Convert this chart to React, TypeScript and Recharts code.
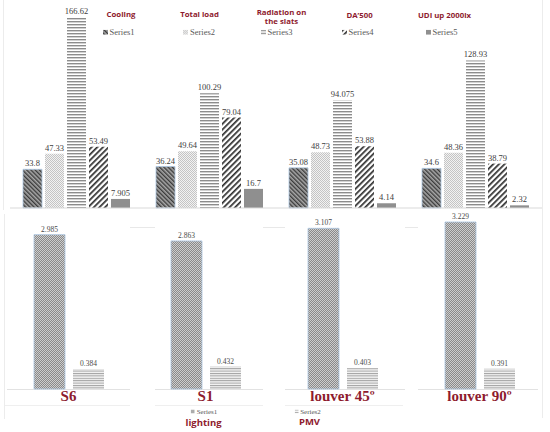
import React from 'react';
import { BarChart, Bar, XAxis, YAxis, LabelList, ReferenceLine } from 'recharts';

// ---------- data ----------
const categories = ['S6', 'S1', 'louver 45º', 'louver 90º'];

const topSeriesNames = ['Series1', 'Series2', 'Series3', 'Series4', 'Series5'];
const topTitles = ['Cooling', 'Total load', 'Radiation on the slats', 'DA’500', 'UDI up 2000lx'];
const series1 = [33.8, 36.24, 35.08, 34.6];
const series2 = [47.33, 49.64, 48.73, 48.36];
const series3 = [166.62, 100.29, 94.075, 128.93];
const series4 = [53.49, 79.04, 53.88, 38.79];
const series5 = [7.905, 16.7, 4.14, 2.32];

const bottomSeriesNames = ['Series1', 'Series2'];
const bottomTitles = ['lighting', 'PMV'];
const lighting = [2.985, 2.863, 3.107, 3.229];
const pmv = [0.384, 0.432, 0.403, 0.391];

const topData = categories.map((name, i) => ({
  name,
  s1: series1[i],
  s2: series2[i],
  s3: series3[i],
  s4: series4[i],
  s5: series5[i],
}));

const bottomData = categories.map((name, i) => ({
  name,
  lighting: lighting[i],
  pmv: pmv[i],
}));

// ---------- styles ----------
const RED = '#8e1b2e';
const SERIF = '"Liberation Serif", "Times New Roman", serif';
const SANS = '"Open Sans", "Liberation Sans", Arial, sans-serif';
const BLUE_EDGE = '#a9c4e0';

const Patterns = () => (
  <svg width={0} height={0} style={{ position: 'absolute', left: 0, top: 0 }}>
    <defs>
      <pattern id="pt1" width="3" height="3" patternUnits="userSpaceOnUse" patternTransform="rotate(-45)">
        <rect width="3" height="3" fill="#a8a8a8" />
        <rect width="1.4" height="3" fill="#3c3c3c" />
      </pattern>
      <pattern id="pt2" width="2" height="2" patternUnits="userSpaceOnUse">
        <rect width="2" height="2" fill="#f2f2f2" />
        <rect width="1" height="1" fill="#c4c4c4" />
        <rect x="1" y="1" width="1" height="1" fill="#c4c4c4" />
      </pattern>
      <pattern id="pt3" width="3" height="3" patternUnits="userSpaceOnUse">
        <rect width="3" height="3" fill="#ffffff" />
        <rect width="3" height="1.4" fill="#8c8c8c" />
      </pattern>
      <pattern id="pt4" width="4" height="4" patternUnits="userSpaceOnUse" patternTransform="rotate(45)">
        <rect width="4" height="4" fill="#ffffff" />
        <rect width="1.7" height="4" fill="#2e2e2e" />
      </pattern>
      <pattern id="pb1" width="2" height="2" patternUnits="userSpaceOnUse">
        <rect width="2" height="2" fill="#cdcdcd" />
        <rect width="1" height="1" fill="#8a8a8a" />
        <rect x="1" y="1" width="1" height="1" fill="#8a8a8a" />
      </pattern>
      <pattern id="pb2" width="2.4" height="2.4" patternUnits="userSpaceOnUse">
        <rect width="2.4" height="2.4" fill="#f4f4f4" />
        <rect width="2.4" height="1" fill="#a0a0a0" />
      </pattern>
    </defs>
  </svg>
);

const topFills = ['url(#pt1)', 'url(#pt2)', 'url(#pt3)', 'url(#pt4)', '#8f8f8f'];
const topStrokes = [BLUE_EDGE, 'none', 'none', 'none', 'none'];
const topKeys = ['s1', 's2', 's3', 's4', 's5'];
const topTitlePos = [
  { x: 121, y: 14 },
  { x: 199.5, y: 14 },
  { x: 281.5, y: 16 },
  { x: 359.5, y: 14.5 },
  { x: 444.5, y: 14.5 },
];
const topLegendPos = [
  { x: 118.5, y: 32 },
  { x: 199, y: 32 },
  { x: 276.5, y: 32 },
  { x: 357.5, y: 32 },
  { x: 441.5, y: 32 },
];

const bottomFills = ['url(#pb1)', 'url(#pb2)'];
const bottomLegendPos = [
  { x: 204, y: 411.5 },
  { x: 307.5, y: 411.5 },
];
const bottomTitlePos = [
  { x: 203.5, y: 422.5 },
  { x: 309.5, y: 422 },
];

const Center: React.FC<{ x: number; y: number; style?: React.CSSProperties; children?: React.ReactNode }> = ({
  x,
  y,
  style,
  children,
}) => (
  <div
    style={{
      position: 'absolute',
      left: x,
      top: y,
      transform: 'translate(-50%, -50%)',
      whiteSpace: 'nowrap',
      lineHeight: 1,
      ...style,
    }}
  >
    {children}
  </div>
);

const LegendItem: React.FC<{ fill: string; label: string; size: number; font: number }> = ({ fill, label, size, font }) => (
  <div
    style={{ display: 'flex', alignItems: 'center', fontFamily: SERIF, fontSize: font, lineHeight: 1, color: '#595959' }}
  >
    <svg width={size} height={size} style={{ marginRight: 2, display: 'block' }}>
      <rect width={size} height={size} fill={fill} />
    </svg>
    <span>{label}</span>
  </div>
);

const Line: React.FC<{ x: number; y: number; w: number; h: number; c?: string }> = ({ x, y, w, h, c = '#e6e6e6' }) => (
  <div style={{ position: 'absolute', left: x, top: y, width: w, height: h, background: c }} />
);

const BottomTick = (props: any) => {
  const { x, y, payload } = props;
  return (
    <text x={x} y={y + 12} textAnchor="middle" fill={RED} fontFamily={SERIF} fontWeight="bold" fontSize={15}>
      {payload.value}
    </text>
  );
};

const makeLabel = (size: number, color: string) => (props: any) => {
  const { x, y, width, value } = props;
  return (
    <text
      x={Number(x) + Number(width) / 2}
      y={Number(y) - 3}
      textAnchor="middle"
      fill={color}
      fontSize={size}
      fontFamily={SERIF}
    >
      {value}
    </text>
  );
};

const topLabel = makeLabel(8.5, '#404040');
const bottomLabel = makeLabel(7.5, '#4a4a4a');

export default function App() {
  return (
    <div style={{ position: 'absolute', left: 0, top: 0, width: 550, height: 432, background: '#fff', overflow: 'hidden' }}>
      <Patterns />

      {/* faint panel frame lines */}
      <Line x={3} y={0} w={1} h={210} c="#ececec" />
      <Line x={542} y={0} w={1} h={212} c="#ececec" />
      <Line x={4} y={214} w={1} h={205} c="#ececec" />
      <Line x={542} y={208} w={1} h={210} c="#ececec" />
      <Line x={130} y={227} w={25} h={1} c="#e8e8e8" />
      <Line x={263} y={227} w={22} h={1} c="#e8e8e8" />
      <Line x={405} y={227} w={13} h={1} c="#e8e8e8" />
      <Line x={5} y={405} w={125} h={1} c="#efefef" />
      <Line x={155} y={405} w={108} h={1} c="#efefef" />
      <Line x={285} y={405} w={118} h={1} c="#efefef" />
      {/* bottom baseline segments */}
      <Line x={7} y={389} w={123} h={1} c="#e2e2e2" />
      <Line x={155} y={389} w={108} h={1} c="#e2e2e2" />
      <Line x={285} y={389} w={120} h={1} c="#e2e2e2" />
      <Line x={418} y={389} w={120} h={1} c="#e2e2e2" />

      {/* top chart */}
      <div style={{ position: 'absolute', left: 0, top: 0 }}>
        <BarChart
          width={550}
          height={215}
          data={topData}
          margin={{ top: 2, right: 8, left: 10, bottom: 7 }}
          barGap={3}
          barSize={19}
        >
          <XAxis dataKey="name" hide />
          <YAxis hide domain={[0, 180]} />
          <ReferenceLine y={0} stroke="#d9d9d9" strokeWidth={1} />
          {topKeys.map((k, i) => (
            <Bar
              key={k}
              dataKey={k}
              name={topSeriesNames[i]}
              fill={topFills[i]}
              stroke={topStrokes[i]}
              strokeWidth={0.8}
              isAnimationActive={false}
            >
              <LabelList dataKey={k} content={topLabel} />
            </Bar>
          ))}
        </BarChart>
      </div>

      {/* bottom chart */}
      <div style={{ position: 'absolute', left: 0, top: 205 }}>
        <BarChart
          width={550}
          height={227}
          data={bottomData}
          margin={{ top: 3, right: 2, left: 0, bottom: 23 }}
          barGap={8}
          barSize={31}
        >
          <XAxis
            dataKey="name"
            axisLine={false}
            tickLine={false}
            tickSize={0}
            tickMargin={0}
            interval={0}
            height={20}
            tick={BottomTick}
          />
          <YAxis hide domain={[0, 3.5]} />
          <Bar
            dataKey="lighting"
            name={bottomSeriesNames[0]}
            fill={bottomFills[0]}
            stroke={BLUE_EDGE}
            strokeWidth={0.8}
            isAnimationActive={false}
          >
            <LabelList dataKey="lighting" content={bottomLabel} />
          </Bar>
          <Bar dataKey="pmv" name={bottomSeriesNames[1]} fill={bottomFills[1]} isAnimationActive={false}>
            <LabelList dataKey="pmv" content={bottomLabel} />
          </Bar>
        </BarChart>
      </div>

      {/* top legend titles */}
      {topTitles.map((t, i) => (
        <Center
          key={t}
          x={topTitlePos[i].x}
          y={topTitlePos[i].y}
          style={{
            fontFamily: SANS,
            fontWeight: 700,
            fontSize: 7.8,
            color: RED,
            lineHeight: '8.5px',
            textAlign: 'center',
            whiteSpace: i === 2 ? 'normal' : 'nowrap',
            width: i === 2 ? 52 : undefined,
          }}
        >
          {t}
        </Center>
      ))}
      {topSeriesNames.map((s, i) => (
        <Center key={s} x={topLegendPos[i].x} y={topLegendPos[i].y} style={{ fontSize: 8.5 }}>
          <LegendItem fill={topFills[i]} label={s} size={5} font={8.5} />
        </Center>
      ))}

      {/* bottom legend */}
      {bottomSeriesNames.map((s, i) => (
        <Center key={s} x={bottomLegendPos[i].x} y={bottomLegendPos[i].y} style={{ fontSize: 7 }}>
          <LegendItem fill={bottomFills[i]} label={s} size={4} font={7} />
        </Center>
      ))}
      {bottomTitles.map((t, i) => (
        <Center
          key={t}
          x={bottomTitlePos[i].x}
          y={bottomTitlePos[i].y}
          style={{ fontFamily: SANS, fontWeight: 700, fontSize: 9.5, color: RED }}
        >
          {t}
        </Center>
      ))}
    </div>
  );
}
